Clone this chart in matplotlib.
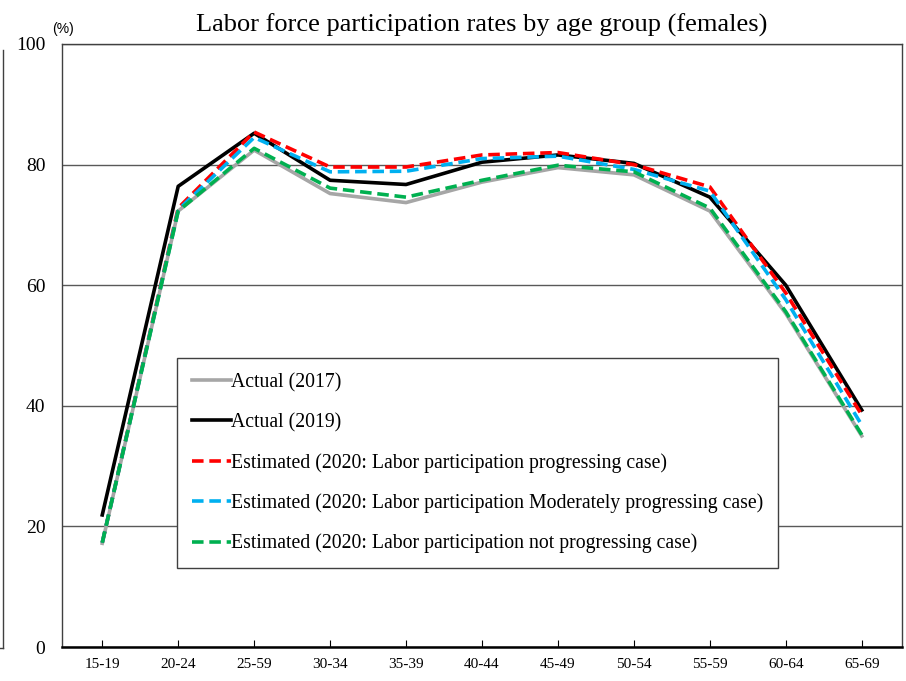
import matplotlib
matplotlib.use("Agg")
import matplotlib.pyplot as plt
from matplotlib.lines import Line2D

# age groups (labels as printed in the source chart)
age_groups = ["15-19", "20-24", "25-59", "30-34", "35-39", "40-44",
              "45-49", "50-54", "55-59", "60-64", "65-69"]

# labor force participation rates (%), females
actual_2017 = [17.2, 72.3, 82.4, 75.2, 73.7, 77.1, 79.5, 78.3, 72.3, 55.3, 35.0]
actual_2019 = [21.9, 76.4, 85.2, 77.4, 76.7, 80.4, 81.6, 80.2, 74.6, 60.0, 39.3]
est_progressing = [17.3, 72.8, 85.4, 79.6, 79.6, 81.6, 82.0, 80.0, 76.3, 58.7, 38.5]
est_moderate = [17.3, 72.5, 84.5, 78.8, 78.9, 81.0, 81.4, 79.2, 75.6, 57.6, 36.8]
est_not_progressing = [17.3, 72.3, 82.7, 76.1, 74.6, 77.4, 79.9, 78.8, 72.8, 55.6, 35.2]

labels = [
    "Actual (2017)",
    "Actual (2019)",
    "Estimated (2020: Labor participation progressing case)",
    "Estimated (2020: Labor participation Moderately progressing case)",
    "Estimated (2020: Labor participation not progressing case)",
]

plt.rcParams["font.family"] = ["Liberation Serif", "DejaVu Serif"]

fig = plt.figure(figsize=(9.06, 6.81), dpi=100)
ax = fig.add_axes([62 / 906, 34 / 681, 840 / 906, 603 / 681])

x = list(range(len(age_groups)))
lw = 2.6
dash = (3.2, 1.6)

ax.plot(x, actual_2017, color="#A6A6A6", lw=lw, label=labels[0], zorder=3)
ax.plot(x, actual_2019, color="black", lw=lw, label=labels[1], zorder=4)
ax.plot(x, est_progressing, color="#FF0000", lw=lw, dashes=dash, label=labels[2], zorder=5)
ax.plot(x, est_moderate, color="#00B0F0", lw=lw, dashes=dash, label=labels[3], zorder=6)
ax.plot(x, est_not_progressing, color="#00B050", lw=lw, dashes=dash, label=labels[4], zorder=7)

ax.set_xlim(-0.53, 10.53)
ax.set_ylim(0, 100)
ax.set_yticks([0, 20, 40, 60, 80, 100])
ax.set_xticks(x)
ax.set_xticklabels(age_groups, fontsize=11)
ax.tick_params(axis="x", direction="in", length=5, width=0.8, pad=8)
ax.tick_params(axis="y", length=0, pad=12, labelsize=14)
ax.yaxis.grid(True, color="#595959", lw=1.0)
ax.set_axisbelow(True)

for side in ["left", "top", "right"]:
    ax.spines[side].set_linewidth(1.0)
    ax.spines[side].set_color("#404040")
ax.spines["bottom"].set_linewidth(1.8)
ax.spines["bottom"].set_color("black")

ax.set_title("Labor force participation rates by age group (females)",
             fontsize=19, pad=9)

fig.text(63 / 906, 1 - 29 / 681, "(%)", ha="center", va="center",
         fontsize=10, family="Liberation Sans")

leg = ax.legend(loc="upper left", bbox_to_anchor=(0.137, 0.479),
                fontsize=14.2, frameon=True, fancybox=False,
                handlelength=2.0, handletextpad=0.0, labelspacing=1.05,
                borderpad=0.75, borderaxespad=0)
leg.get_frame().set_edgecolor("#404040")
leg.get_frame().set_linewidth(1.0)
leg.get_frame().set_alpha(1)

# stray frame line at the left edge of the source image
fig.add_artist(Line2D([3 / 906, 3 / 906], [1 - 50 / 681, 1 - 648 / 681],
                      color="#404040", lw=1.0))
fig.add_artist(Line2D([0, 3 / 906], [1 - 648 / 681, 1 - 648 / 681],
                      color="#404040", lw=1.0))

fig.savefig("out.png", dpi=100)
